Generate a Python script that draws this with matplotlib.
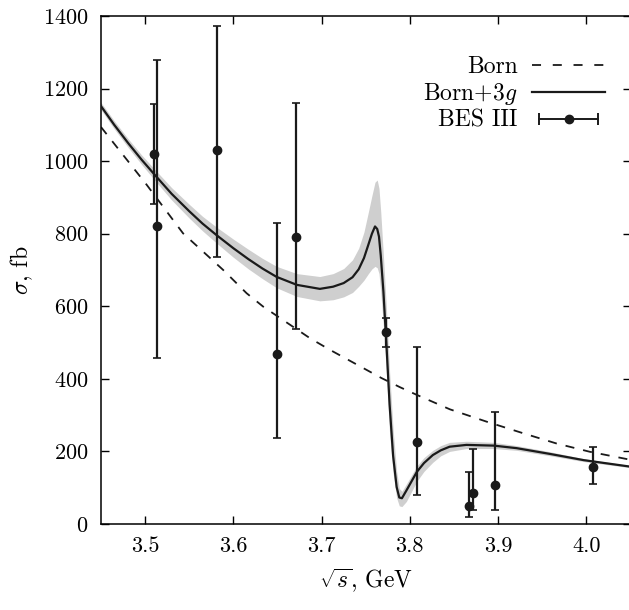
import numpy as np
import matplotlib
matplotlib.use("Agg")
import matplotlib.pyplot as plt
from matplotlib.lines import Line2D
from matplotlib.legend_handler import HandlerLine2D

plt.rcParams['font.family'] = 'serif'
plt.rcParams['font.serif'] = ['cmr10']
plt.rcParams['mathtext.fontset'] = 'cm'
plt.rcParams['axes.formatter.use_mathtext'] = True

# --- BES III points ---
x_bes = [3.510, 3.514, 3.582, 3.650, 3.671, 3.773, 3.808, 3.867, 3.871, 3.896, 4.008]
sig_bes = [1020, 820, 1030, 468, 790, 528, 227, 50, 85, 108, 158]
err_up = [137, 460, 343, 362, 370, 39, 262, 94, 121, 200, 54]
err_dn = [139, 363, 295, 232, 252, 40, 147, 30, 46, 69, 47]

# --- Born (dashed) ---
x_born = [3.45, 3.5017, 3.543, 3.5885, 3.615, 3.6338, 3.6868, 3.7094, 3.768,
          3.7888, 3.8077, 3.8454, 3.887, 3.9285, 3.966, 4.004, 4.05]
sig_born = [1094, 935, 801, 700, 636, 599, 512, 480, 402,
            377, 356, 316, 282, 250, 222, 199, 177]

# --- Born+3g with band ---
x_fit = [3.449, 3.465, 3.481, 3.496, 3.511, 3.53, 3.55, 3.565, 3.581, 3.6,
         3.617, 3.633, 3.649, 3.672, 3.698, 3.713, 3.725, 3.735, 3.742, 3.748,
         3.753, 3.757, 3.7605, 3.763, 3.765, 3.767, 3.770, 3.7735, 3.777, 3.781,
         3.785, 3.788, 3.791, 3.796, 3.802, 3.808, 3.816, 3.826, 3.835, 3.845,
         3.864, 3.895, 3.921, 3.959, 3.997, 4.05]
sig_fit = [1155, 1100, 1049, 1004, 962, 910, 862, 828, 796, 760,
           730, 704, 681, 659, 648, 654, 664, 680, 702, 733,
           770, 800, 820, 813, 792, 740, 641, 492, 330, 188,
           102, 73, 71, 92, 118, 144, 168, 190, 203, 213,
           218, 216, 209, 193, 176, 158]
fit_hi = [1165, 1111, 1061, 1017, 977, 927, 881, 848, 818, 785,
          757, 732, 710, 690, 682, 690, 704, 728, 760, 805,
          860, 905, 942, 948, 925, 860, 740, 590, 420, 260,
          145, 98, 90, 110, 135, 160, 183, 203, 216, 225,
          228, 225, 216, 199, 180, 161]
fit_lo = [1145, 1089, 1037, 991, 947, 893, 843, 808, 774, 735,
          703, 676, 651, 627, 615, 618, 626, 638, 655, 672,
          690, 703, 710, 706, 690, 640, 545, 410, 250, 140,
          72, 50, 48, 62, 90, 118, 145, 170, 188, 200,
          208, 208, 203, 188, 172, 155]

ink = '#1a1a1a'
fig = plt.figure(figsize=(6.29, 6.10), dpi=100)
ax = fig.add_axes([101/629, 1 - 524/610, 529.5/629, 508/610])

ax.fill_between(x_fit, fit_lo, fit_hi, color='#cfcfcf', lw=0, zorder=1)
ax.plot(x_fit, sig_fit, color=ink, lw=1.6, zorder=3)
ax.plot(x_born, sig_born, color=ink, lw=1.3, ls=(0, (5, 5)), zorder=2)
ax.errorbar(x_bes, sig_bes, yerr=[err_dn, err_up], fmt='o', color=ink,
            ms=6, elinewidth=1.6, capsize=3, capthick=1.2, zorder=4)

ax.set_xlim(3.45, 4.05)
ax.set_ylim(0, 1400)
ax.set_xticks([3.5, 3.6, 3.7, 3.8, 3.9, 4.0])
ax.set_xticklabels(['3.5', '3.6', '3.7', '3.8', '3.9', '4.0'])
ax.set_yticks(np.arange(0, 1401, 200))
ax.tick_params(direction='in', top=True, right=True, length=6, width=1,
               labelsize=16, pad=9)
for s in ax.spines.values():
    s.set_linewidth(1.1)
ax.set_xlabel(r'$\sqrt{s}$, GeV', fontsize=17, labelpad=7)
ax.set_ylabel(r'$\sigma$, fb', fontsize=17, labelpad=6)

# legend handles
h_born = Line2D([], [], color=ink, lw=1.3, ls=(0, (5, 6.5)))
h_fit = Line2D([], [], color=ink, lw=1.6)
h_caps = Line2D([], [], color=ink, lw=1.4, marker='|', ms=8, mew=1.4)
h_dot = Line2D([], [], color=ink, lw=0, marker='o', ms=6)
ax.legend([h_born, h_fit, (h_caps, h_dot)], ['Born', r'Born$+3g$', 'BES III'],
          handler_map={h_caps: HandlerLine2D(numpoints=2),
                       h_dot: HandlerLine2D(numpoints=1)},
          loc='upper right', bbox_to_anchor=(0.97, 0.94), frameon=False,
          markerfirst=False, fontsize=17, handlelength=3.1, handletextpad=0.6,
          labelspacing=0.12, borderaxespad=0)

fig.savefig('out.png', dpi=100)
